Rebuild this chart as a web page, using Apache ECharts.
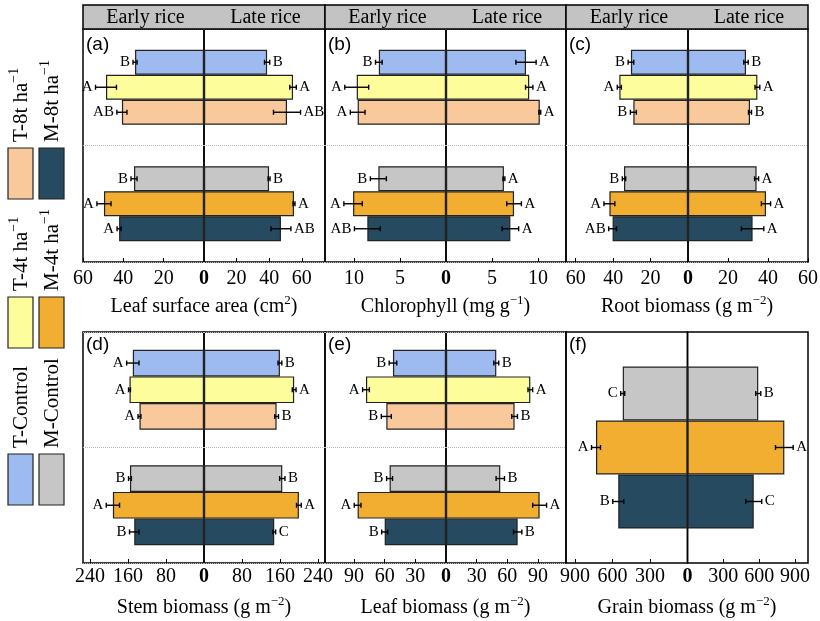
<!DOCTYPE html>
<html><head><meta charset="utf-8">
<script src="https://cdn.jsdelivr.net/npm/echarts@6/dist/echarts.min.js"></script>
<style>html,body{margin:0;padding:0;background:#fff}#c{width:820px;height:621px}</style>
</head><body><div id="c"></div>
<script>
// ---- Data (order: T-Control, T-4t, T-8t, M-Control, M-4t, M-8t) ----
const treatments = ['T-Control', 'T-4t ha-1', 'T-8t ha-1', 'M-Control', 'M-4t ha-1', 'M-8t ha-1'];
const colors = ['#9DBBF1', '#FDFD9C', '#F9C89B', '#C6C6C6', '#F1AE30', '#264A60'];

const leafAreaEarly = [34.2, 48.6, 40.7, 34.7, 49.6, 42.1];
const leafAreaEarlyErr = [1.0, 5.2, 2.5, 1.5, 3.5, 1.0];
const leafAreaEarlyLetters = ['B', 'A', 'AB', 'B', 'A', 'A'];
const leafAreaLate = [38.7, 54.6, 50.9, 39.9, 55.2, 47.2];
const leafAreaLateErr = [1.6, 2.0, 8.3, 0.6, 0.6, 6.1];
const leafAreaLateLetters = ['B', 'A', 'AB', 'B', 'A', 'AB'];

const chlEarly = [7.3, 9.7, 9.6, 7.35, 10.1, 8.55];
const chlEarlyErr = [0.36, 1.3, 0.8, 0.87, 1.0, 1.4];
const chlEarlyLetters = ['B', 'A', 'A', 'B', 'A', 'AB'];
const chlLate = [8.7, 9.05, 10.2, 6.3, 7.4, 7.0];
const chlLateErr = [1.1, 0.4, 0.1, 0.1, 0.8, 0.9];
const chlLateLetters = ['A', 'A', 'A', 'A', 'A', 'A'];

const rootEarly = [30.5, 36.7, 29.2, 34.2, 42.0, 40.3];
const rootEarlyErr = [1.5, 1.1, 1.6, 0.9, 2.9, 2.1];
const rootEarlyLetters = ['B', 'A', 'B', 'B', 'A', 'AB'];
const rootLate = [29.0, 34.7, 31.0, 34.3, 39.0, 32.3];
const rootLateErr = [1.1, 1.2, 0.75, 1.0, 2.3, 5.6];
const rootLateLetters = ['B', 'A', 'B', 'A', 'A', 'A'];

const stemEarly = [150, 157, 136, 156, 192, 147];
const stemEarlyErr = [13, 2, 3, 3, 14, 10];
const stemEarlyLetters = ['A', 'A', 'A', 'B', 'A', 'B'];
const stemLate = [160, 190, 153, 165, 200, 148];
const stemLateErr = [4, 4, 4, 5.6, 5, 3];
const stemLateLetters = ['B', 'A', 'B', 'B', 'A', 'C'];

const leafBioEarly = [51.9, 78.3, 58.4, 55.2, 86.5, 60.0];
const leafBioEarlyErr = [3.7, 3.3, 4.9, 2.9, 3.3, 2.9];
const leafBioEarlyLetters = ['B', 'A', 'B', 'B', 'A', 'B'];
const leafBioLate = [49.2, 82.5, 67.1, 53.1, 91.6, 70.1];
const leafBioLateErr = [2.4, 2.3, 2.8, 4.1, 6.8, 4.1];
const leafBioLateLetters = ['B', 'A', 'B', 'B', 'A', 'B'];

// Grain biomass: M-Control, M-4t, M-8t only
const grainEarly = [518, 732, 554];
const grainEarlyErr = [16, 36, 44];
const grainEarlyLetters = ['C', 'A', 'B'];
const grainLate = [592, 810, 554];
const grainLateErr = [21, 74, 67];
const grainLateLetters = ['B', 'A', 'C'];

// tick labels
const ticksLeafArea = [20, 40, 60];
const ticksChl = [5, 10];
const ticksRoot = [20, 40, 60];
const ticksStem = [80, 160, 240];
const ticksLeafBio = [30, 60, 90];
const ticksGrain = [300, 600, 900];

// ---- Layout ----
const SERIF = '"Liberation Serif", "Times New Roman", serif';
const ROWS = [{top: 29, bottom: 262, bw: 25, margin: 7}, {top: 332, bottom: 563, bw: 26.7, margin: 4}];

const panels = [
  {label: '(a)', row: 0, x0: 83, zero: 204, x1: 325, maxL: 60, maxR: 74.2, ticks: ticksLeafArea,
   title: ['Leaf surface area (cm', '2', ')'], groups: 2,
   early: [leafAreaEarly, leafAreaEarlyErr, leafAreaEarlyLetters], late: [leafAreaLate, leafAreaLateErr, leafAreaLateLetters]},
  {label: '(b)', row: 0, x0: 325, zero: 446, x1: 566, maxL: 13.15, maxR: 13.05, ticks: ticksChl,
   title: ['Chlorophyll (mg g', '\u22121', ')'], groups: 2,
   early: [chlEarly, chlEarlyErr, chlEarlyLetters], late: [chlLate, chlLateErr, chlLateLetters]},
  {label: '(c)', row: 0, x0: 566, zero: 688, x1: 808, maxL: 65.2, maxR: 60, ticks: ticksRoot,
   title: ['Root biomass (g m', '\u22122', ')'], groups: 2,
   early: [rootEarly, rootEarlyErr, rootEarlyLetters], late: [rootLate, rootLateErr, rootLateLetters]},
  {label: '(d)', row: 1, x0: 83, zero: 204, x1: 325, maxL: 255, maxR: 255, ticks: ticksStem,
   title: ['Stem biomass (g m', '\u22122', ')'], groups: 2,
   early: [stemEarly, stemEarlyErr, stemEarlyLetters], late: [stemLate, stemLateErr, stemLateLetters]},
  {label: '(e)', row: 1, x0: 325, zero: 446, x1: 566, maxL: 118.4, maxR: 117.4, ticks: ticksLeafBio,
   title: ['Leaf biomass (g m', '\u22122', ')'], groups: 2,
   early: [leafBioEarly, leafBioEarlyErr, leafBioEarlyLetters], late: [leafBioLate, leafBioLateErr, leafBioLateLetters]},
  {label: '(f)', row: 1, x0: 566, zero: 687.5, x1: 808, maxL: 972, maxR: 1008, ticks: ticksGrain,
   title: ['Grain biomass (g m', '\u22122', ')'], groups: 1, bw: 54,
   early: [grainEarly, grainEarlyErr, grainEarlyLetters], late: [grainLate, grainLateErr, grainLateLetters]}
];

const grids = [], xAxes = [], yAxes = [], series = [], graphics = [];

function makeRender(bw, side, letters) {
  return function (params, api) {
    const v = api.value(0), k = api.value(1), e = api.value(2), r = api.value(3);
    const c = api.coord([v, k]);
    const a = api.coord([v - e, k]);
    const b = api.coord([v + e, k]);
    const y = c[1] + (r - 1) * bw;
    const cap = 2.5;
    const dir = side === 'L' ? -1 : 1;
    const ls = {stroke: '#000', lineWidth: 1.4};
    return {type: 'group', children: [
      {type: 'line', shape: {x1: a[0], y1: y, x2: b[0], y2: y}, style: ls},
      {type: 'line', shape: {x1: a[0], y1: y - cap, x2: a[0], y2: y + cap}, style: ls},
      {type: 'line', shape: {x1: b[0], y1: y - cap, x2: b[0], y2: y + cap}, style: ls},
      {type: 'text', x: b[0] + dir * 3, y: y, style: {text: letters[params.dataIndex], fill: '#000',
        fontSize: 15, fontFamily: SERIF, align: side === 'L' ? 'right' : 'left', verticalAlign: 'middle'}}
    ]};
  };
}

panels.forEach(p => {
  const rb = ROWS[p.row];
  const bw = p.bw || rb.bw;
  ['L', 'R'].forEach(side => {
    const gi = grids.length;
    const left = side === 'L' ? p.x0 : p.zero;
    const right = side === 'L' ? p.zero : p.x1;
    grids.push({left: left, top: rb.top, width: right - left, height: rb.bottom - rb.top,
      show: true, borderColor: '#000', borderWidth: 1.5, backgroundColor: 'rgba(0,0,0,0)',
      containLabel: false, outerBoundsMode: 'none'});
    const labelVals = side === 'L' ? p.ticks : [0].concat(p.ticks);
    xAxes.push({gridIndex: gi, type: 'value', min: 0, max: side === 'L' ? p.maxL : p.maxR,
      inverse: side === 'L',
      axisLine: {show: false}, splitLine: {show: false},
      axisTick: {show: true, inside: true, length: 4, lineStyle: {color: '#000', width: 1}, customValues: p.ticks},
      axisLabel: {customValues: labelVals, margin: rb.margin, color: '#000', fontSize: 20, fontFamily: SERIF,
        formatter: v => v === 0 ? '{b|0}' : '{n|' + v + '}',
        rich: {b: {fontWeight: 'bold', fontSize: 20, fontFamily: SERIF, color: '#000'},
               n: {fontSize: 20, fontFamily: SERIF, color: '#000'}}}
    });
    const cats = p.groups === 2 ? ['T', 'M'] : ['M'];
    yAxes.push({gridIndex: gi, type: 'category', data: cats, inverse: true,
      axisLine: {show: false}, axisTick: {show: false}, axisLabel: {show: false},
      splitLine: {show: p.groups === 2, lineStyle: {color: '#b8b8b8', type: 'dotted', width: 1}}});
    const [vals, errs, lets] = side === 'L' ? p.early : p.late;
    const custData = [], custLetters = [];
    for (let r = 0; r < 3; r++) {
      const data = cats.map((c, k) => {
        const idx = p.groups === 2 ? k * 3 + r : r;
        const colIdx = p.groups === 2 ? k * 3 + r : 3 + r;
        return {value: vals[idx], itemStyle: {color: colors[colIdx]}};
      });
      series.push({type: 'bar', name: treatments[r], xAxisIndex: gi, yAxisIndex: gi, barWidth: bw, barGap: '0%',
        data: data, itemStyle: {borderColor: '#222', borderWidth: 1.2}, silent: true, animation: false});
      cats.forEach((c, k) => {
        const idx = p.groups === 2 ? k * 3 + r : r;
        custData.push([vals[idx], k, errs[idx], r]);
        custLetters.push(lets[idx]);
      });
    }
    series.push({type: 'custom', xAxisIndex: gi, yAxisIndex: gi, data: custData, z: 5, clip: false,
      encode: {x: 0, y: 1}, renderItem: makeRender(bw, side, custLetters), silent: true, animation: false});
  });

  // header (top row)
  if (p.row === 0) {
    graphics.push({type: 'rect', shape: {x: p.x0, y: 5, width: p.x1 - p.x0, height: rb.top - 5},
      style: {fill: '#C3C3C3', stroke: '#000', lineWidth: 1.5}, z: 1});
    graphics.push({type: 'text', x: (p.x0 + p.zero) / 2 + 2, y: 18, z: 2,
      style: {text: 'Early rice', fontSize: 20, fontFamily: SERIF, fill: '#000', align: 'center', verticalAlign: 'middle'}});
    graphics.push({type: 'text', x: (p.zero + p.x1) / 2 + 1, y: 18, z: 2,
      style: {text: 'Late rice', fontSize: 20, fontFamily: SERIF, fill: '#000', align: 'center', verticalAlign: 'middle'}});
  }
  // panel label
  graphics.push({type: 'text', x: p.x0 + 3, y: rb.top + (p.row === 0 ? 16 : 13), z: 10,
    style: {text: p.label, fontSize: 19, fontFamily: '"Liberation Sans", Arial, sans-serif', fill: '#000', align: 'left', verticalAlign: 'middle'}});
  // axis title
  graphics.push({type: 'text', x: (p.x0 + p.x1) / 2, y: rb.bottom + 45, z: 10,
    style: {text: '{n|' + p.title[0] + '}{s|' + p.title[1] + '}{n|' + p.title[2] + '}',
      align: 'center', verticalAlign: 'middle',
      rich: {n: {fontSize: 20, fontFamily: SERIF, fill: '#000', color: '#000', lineHeight: 26},
             s: {fontSize: 13, fontFamily: SERIF, fill: '#000', color: '#000', lineHeight: 13, verticalAlign: 'top'}}}});
});

// ---- Legend (left side, rotated text reading upward) ----
const legendCols = [{x: 8, idx: [0, 1, 2]}, {x: 39, idx: [3, 4, 5]}];
const legendSwatchTop = [454, 297, 148];
const legendLabels = [
  ['T-Control', ''], ['T-4t ha', '\u22121'], ['T-8t ha', '\u22121'],
  ['M-Control', ''], ['M-4t ha', '\u22121'], ['M-8t ha', '\u22121']
];
legendCols.forEach(col => {
  col.idx.forEach((ti, j) => {
    graphics.push({type: 'rect', shape: {x: col.x, y: legendSwatchTop[j], width: 25, height: 51},
      style: {fill: colors[ti], stroke: '#222', lineWidth: 1.2}});
    const lab = legendLabels[ti];
    graphics.push({type: 'text', x: col.x + 13, y: legendSwatchTop[j] - 6, rotation: Math.PI / 2,
      style: {text: '{n|' + lab[0] + '}' + (lab[1] ? '{s|' + lab[1] + '}' : ''), align: 'left', verticalAlign: 'middle',
        rich: {n: {fontSize: 21, fontFamily: SERIF, color: '#000', lineHeight: 27},
               s: {fontSize: 14, fontFamily: SERIF, color: '#000', lineHeight: 14, verticalAlign: 'top'}}}});
  });
});

const chart = echarts.init(document.getElementById('c'), null, {renderer: 'canvas'});
chart.setOption({
  animation: false,
  backgroundColor: '#fff',
  grid: grids, xAxis: xAxes, yAxis: yAxes, series: series,
  graphic: {elements: graphics}
});
</script></body></html>
